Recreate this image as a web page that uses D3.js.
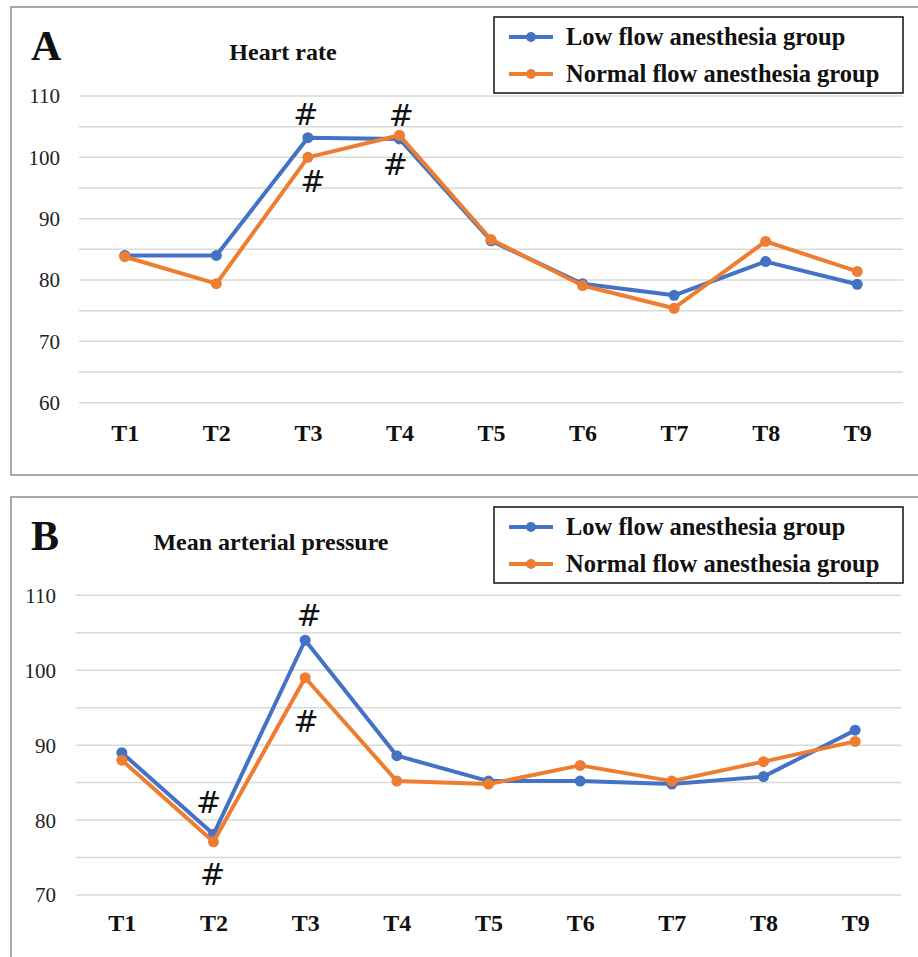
<!DOCTYPE html>
<html>
<head>
<meta charset="utf-8">
<script src="https://cdn.jsdelivr.net/npm/d3@7"></script>
<style>
  body { margin: 0; background: #fff; }
  svg { display: block; }
</style>
</head>
<body>
<svg width="918" height="957"></svg>
<script>
// categories and series values
var categories = ["T1", "T2", "T3", "T4", "T5", "T6", "T7", "T8", "T9"];
var seriesNames = ["Low flow anesthesia group", "Normal flow anesthesia group"];
var seriesColors = ["#4472C4", "#ED7D31"];

var hrLow    = [84, 84, 103.2, 103, 86.4, 79.4, 77.5, 83, 79.3];
var hrNormal = [83.8, 79.4, 100, 103.6, 86.6, 79.1, 75.4, 86.3, 81.4];
var mapLow    = [89, 78.1, 104, 88.6, 85.2, 85.2, 84.8, 85.8, 92];
var mapNormal = [88, 77.1, 99, 85.2, 84.8, 87.3, 85.2, 87.8, 90.5];

var hrTicks = [60, 70, 80, 90, 100, 110];
var hrGrid = [60, 65, 70, 75, 80, 85, 90, 95, 100, 105, 110];
var mapTicks = [70, 80, 90, 100, 110];
var mapGrid = [70, 75, 80, 85, 90, 95, 100, 105, 110];

// significance marks: category, series index, side
var hrMarks = [["T3", 0, "above"], ["T3", 1, "below"], ["T4", 1, "above"], ["T4", 0, "below"]];
var mapMarks = [["T2", 0, "above"], ["T2", 1, "below"], ["T3", 0, "above"], ["T3", 1, "below"]];

var svg = d3.select("svg");
var serif = "'Liberation Serif', 'Times New Roman', serif";

function drawPanel(p) {
  var g = svg.append("g");

  // outer frame
  g.append("rect")
    .attr("x", 11).attr("y", p.boxTop)
    .attr("width", 940).attr("height", p.boxHeight)
    .attr("fill", "none").attr("stroke", "#8c8c8c").attr("stroke-width", 1.5);

  var x = d3.scalePoint().domain(categories).range(p.xr).padding(0.5);
  var y = d3.scaleLinear().domain(p.domain).range(p.yr);

  // gridlines
  g.selectAll(".grid").data(p.grid).enter().append("line")
    .attr("x1", p.xr[0]).attr("x2", p.xr[1])
    .attr("y1", d => y(d)).attr("y2", d => y(d))
    .attr("stroke", "#d9d9d9").attr("stroke-width", 1.5);

  // y tick labels
  var yAxis = d3.axisLeft(y).tickValues(p.ticks).tickSize(0).tickPadding(0);
  var ya = g.append("g").attr("transform", "translate(" + p.yLabelX + ",0)").call(yAxis);
  ya.select(".domain").remove();
  ya.selectAll("text")
    .attr("font-family", serif)
    .attr("font-size", 21).attr("fill", "#222").attr("dy", "0.33em");

  // x tick labels
  var xAxis = d3.axisBottom(x).tickSize(0).tickPadding(0);
  var xa = g.append("g").attr("transform", "translate(0," + p.xLabelY + ")").call(xAxis);
  xa.select(".domain").remove();
  xa.selectAll("text")
    .attr("font-family", serif).attr("font-weight", "bold")
    .attr("font-size", 24).attr("fill", "#111").attr("dy", "0.35em");

  // series lines and markers
  var line = d3.line().x((d, i) => x(categories[i])).y(d => y(d));
  p.series.forEach(function(vals, s) {
    g.append("path").datum(vals)
      .attr("d", line).attr("fill", "none")
      .attr("stroke", seriesColors[s]).attr("stroke-width", 4)
      .attr("stroke-linejoin", "round");
    g.selectAll(".m" + s).data(vals).enter().append("circle")
      .attr("cx", (d, i) => x(categories[i])).attr("cy", d => y(d))
      .attr("r", 5.5).attr("fill", seriesColors[s]);
  });

  // # marks
  p.marks.forEach(function(m, k) {
    var idx = categories.indexOf(m[0]);
    var v = p.series[m[1]][idx];
    var off = p.markOffsets[k];
    g.append("text")
      .attr("x", x(m[0]) + off[0])
      .attr("y", y(v) + (m[2] === "above" ? -off[1] : off[1]))
      .attr("text-anchor", "middle").attr("dominant-baseline", "central")
      .attr("font-family", "'DejaVu Sans', sans-serif")
      .attr("font-size", 30).attr("fill", "#111")
      .text("#");
  });

  // panel letter and title
  g.append("text").attr("x", 31).attr("y", p.boxTop + 53)
    .attr("font-family", serif).attr("font-weight", "bold").attr("font-size", 42)
    .attr("fill", "#111").text(p.letter);
  g.append("text").attr("x", p.titleX).attr("y", p.boxTop + 53)
    .attr("text-anchor", "middle")
    .attr("font-family", serif).attr("font-weight", "bold").attr("font-size", 24)
    .attr("fill", "#111").text(p.title);

  // legend
  var lg = g.append("g").attr("transform", "translate(494," + (p.boxTop + 10) + ")");
  lg.append("rect").attr("width", 409).attr("height", 76)
    .attr("fill", "#fff").attr("stroke", "#111").attr("stroke-width", 1.5);
  seriesNames.forEach(function(name, s) {
    var cy = 20 + s * 37;
    lg.append("line").attr("x1", 15).attr("x2", 59).attr("y1", cy).attr("y2", cy)
      .attr("stroke", seriesColors[s]).attr("stroke-width", 4);
    lg.append("circle").attr("cx", 37).attr("cy", cy).attr("r", 5).attr("fill", seriesColors[s]);
    lg.append("text").attr("x", 72).attr("y", cy + 8)
      .attr("font-family", serif).attr("font-weight", "bold").attr("font-size", 24.5)
      .attr("fill", "#111").text(name);
  });
}

drawPanel({
  letter: "A", title: "Heart rate", titleX: 283,
  boxTop: 7, boxHeight: 468,
  xr: [79, 903], yr: [402.7, 96], domain: [60, 110],
  grid: hrGrid, ticks: hrTicks, yLabelX: 60, xLabelY: 433,
  series: [hrLow, hrNormal], marks: hrMarks,
  markOffsets: [[-2, 23], [5, 24], [2, 20], [-4, 26]]
});

drawPanel({
  letter: "B", title: "Mean arterial pressure", titleX: 271,
  boxTop: 497, boxHeight: 480,
  xr: [76, 901], yr: [895, 595.3], domain: [70, 110],
  grid: mapGrid, ticks: mapTicks, yLabelX: 56, xLabelY: 923,
  series: [mapLow, mapNormal], marks: mapMarks,
  markOffsets: [[-5, 32], [-1, 33], [4, 25], [1, 44]]
});
</script>
</body>
</html>
